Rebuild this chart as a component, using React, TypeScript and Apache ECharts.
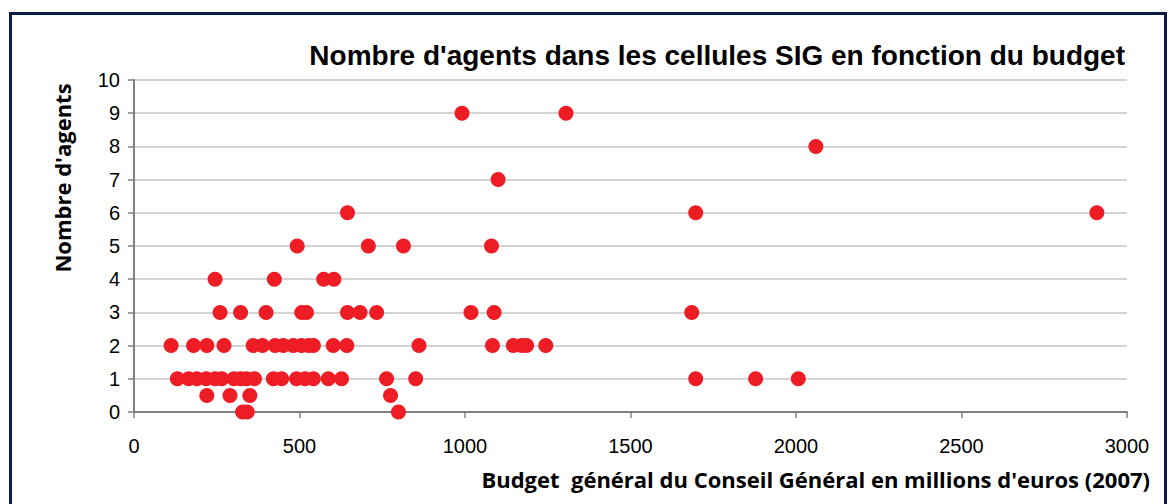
import React, { useEffect, useRef } from "react";
import * as echarts from "echarts";

// Budget (millions d'euros, 2007) for each number of agents
const budgets0 = [328, 342, 799];
const budgets05 = [220, 290, 350, 775];
const budgets1 = [131, 165, 190, 218, 245, 265, 302, 322, 340, 364, 421, 446, 491, 517, 542, 587, 627, 763, 851, 1697, 1878, 2007];
const budgets2 = [112, 180, 220, 272, 360, 388, 426, 451, 481, 506, 527, 542, 602, 643, 861, 1083, 1146, 1171, 1186, 1244];
const budgets3 = [260, 322, 399, 507, 521, 645, 683, 733, 1018, 1088, 1685];
const budgets4 = [245, 424, 573, 604];
const budgets5 = [493, 708, 814, 1080];
const budgets6 = [645, 1697, 2909];
const budgets7 = [1100];
const budgets8 = [2060];
const budgets9 = [991, 1305];

const agentLevels = [0, 0.5, 1, 2, 3, 4, 5, 6, 7, 8, 9];
const budgetGroups = [budgets0, budgets05, budgets1, budgets2, budgets3, budgets4, budgets5, budgets6, budgets7, budgets8, budgets9];

const xTicks = [0, 500, 1000, 1500, 2000, 2500, 3000];
const yTicks = [0, 1, 2, 3, 4, 5, 6, 7, 8, 9, 10];

const title = "Nombre d'agents dans les cellules SIG en fonction du budget";
const xTitle = "Budget  général du Conseil Général en millions d'euros (2007)";
const yTitle = "Nombre d'agents";

const SANS = "'Liberation Sans', Arial, sans-serif";
const BOLD2 = "'Open Sans', 'Noto Sans', sans-serif";

export default function App() {
  const ref = useRef<HTMLDivElement>(null);
  useEffect(() => {
    document.body.style.margin = "0";
    if (!ref.current) return;
    const chart = echarts.init(ref.current, null, { renderer: "svg" });
    const data: number[][] = [];
    budgetGroups.forEach((g, i) => g.forEach((b) => data.push([b, agentLevels[i]])));
    chart.setOption({
      animation: false,
      backgroundColor: "#ffffff",
      grid: { left: 134, right: 46, top: 80, bottom: 92, containLabel: false },
      xAxis: {
        type: "value",
        min: xTicks[0],
        max: xTicks[xTicks.length - 1],
        interval: 500,
        axisLine: { show: true, lineStyle: { color: "#808080", width: 2 } },
        axisTick: { show: true, length: 6, inside: false, lineStyle: { color: "#808080", width: 1.5 } },
        axisLabel: {
          color: "#000",
          fontFamily: SANS,
          fontSize: 20,
          margin: 24,
          formatter: (v: number) => String(v),
        },
        splitLine: { show: false },
      },
      yAxis: {
        type: "value",
        min: yTicks[0],
        max: yTicks[yTicks.length - 1],
        interval: 1,
        axisLine: { show: true, lineStyle: { color: "#808080", width: 2 } },
        axisTick: { show: true, length: 6, inside: false, lineStyle: { color: "#808080", width: 1.5 } },
        axisLabel: {
          color: "#000",
          fontFamily: SANS,
          fontSize: 20,
          margin: 14,
          formatter: (v: number) => String(v),
        },
        splitLine: { show: true, lineStyle: { color: "#c4c4c4", width: 1.5 } },
      },
      series: [
        {
          type: "scatter",
          data,
          symbol: "circle",
          symbolSize: 15,
          itemStyle: { color: "#ee1d25", opacity: 1 },
        },
      ],
      graphic: [
        {
          type: "rect",
          shape: { x: 10.5, y: 13.5, width: 1155, height: 520 },
          style: { fill: "none", stroke: "#0d1c44", lineWidth: 3 },
          z: 100,
        },
        {
          type: "text",
          x: 1125,
          y: 55,
          style: {
            text: title,
            fill: "#000",
            fontFamily: SANS,
            fontWeight: "bold",
            fontSize: 28,
            textAlign: "right",
            textVerticalAlign: "middle",
          },
        },
        {
          type: "text",
          x: 1150,
          y: 479,
          style: {
            text: xTitle,
            fill: "#000",
            fontFamily: BOLD2,
            fontWeight: "bold",
            fontSize: 22,
            textAlign: "right",
            textVerticalAlign: "middle",
          },
        },
        {
          type: "text",
          x: 62,
          y: 178,
          rotation: Math.PI / 2,
          style: {
            text: yTitle,
            fill: "#000",
            fontFamily: BOLD2,
            fontWeight: "bold",
            fontSize: 22,
            textAlign: "center",
            textVerticalAlign: "middle",
          },
        },
      ],
    });
    return () => chart.dispose();
  }, []);
  return <div ref={ref} style={{ width: 1173, height: 504 }} />;
}
